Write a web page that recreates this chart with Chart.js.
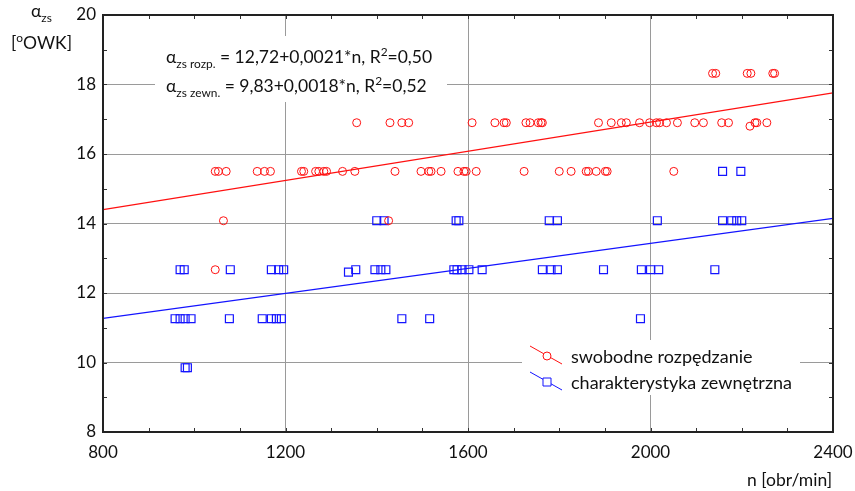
<!DOCTYPE html>
<html>
<head>
<meta charset="utf-8">
<script src="https://cdn.jsdelivr.net/npm/chart.js@4"></script>
<style>
  html, body { margin: 0; padding: 0; background: #fff; }
  #wrap { width: 855px; height: 491px; }
</style>
</head>
<body>
<div id="wrap"><canvas id="myChart" width="855" height="491"></canvas></div>
<script>
// swobodne rozpędzanie (red circles)
const freeN = [2136, 2143, 2212, 2220, 2268, 2272,
  1356, 1429, 1455, 1470, 1609, 1659, 1679, 1684, 1727, 1736, 1754, 1760, 1763,
  1886, 1914, 1936, 1947, 1976, 1998, 2013, 2020, 2035, 2059, 2097, 2116, 2156, 2171, 2218, 2229, 2233, 2255,
  1046, 1053, 1070, 1138, 1154, 1167, 1235, 1240, 1266, 1273, 1284, 1290, 1325, 1352, 1440,
  1497, 1514, 1519, 1541, 1578, 1591, 1596, 1618, 1723, 1800, 1826, 1859, 1864, 1881, 1901, 1905, 2051,
  1064, 1426, 1046];
const freeA = [18.32, 18.32, 18.32, 18.32, 18.32, 18.32,
  16.9, 16.9, 16.9, 16.9, 16.9, 16.9, 16.9, 16.9, 16.9, 16.9, 16.9, 16.9, 16.9,
  16.9, 16.9, 16.9, 16.9, 16.9, 16.9, 16.9, 16.9, 16.9, 16.9, 16.9, 16.9, 16.9, 16.9, 16.8, 16.9, 16.9, 16.9,
  15.5, 15.5, 15.5, 15.5, 15.5, 15.5, 15.5, 15.5, 15.5, 15.5, 15.5, 15.5, 15.5, 15.5, 15.5,
  15.5, 15.5, 15.5, 15.5, 15.5, 15.5, 15.5, 15.5, 15.5, 15.5, 15.5, 15.5, 15.5, 15.5, 15.5, 15.5, 15.5,
  14.08, 14.08, 12.67];

// charakterystyka zewnętrzna (blue squares)
const extN = [2158, 2198,
  1400, 1416, 1574, 1580, 1778, 1796, 2015, 2158, 2178, 2189, 2200,
  969, 978, 1079, 1169, 1185, 1196, 1338, 1354, 1396, 1409, 1420, 1569, 1576, 1587, 1602, 1631,
  1763, 1782, 1796, 1897, 1980, 2000, 2018, 2141,
  958, 969, 980, 993, 1077, 1149, 1169, 1180, 1191, 1455, 1516, 1978,
  980, 985];
const extA = [15.5, 15.5,
  14.08, 14.08, 14.08, 14.08, 14.08, 14.08, 14.08, 14.08, 14.08, 14.08, 14.08,
  12.67, 12.67, 12.67, 12.67, 12.67, 12.67, 12.6, 12.67, 12.67, 12.67, 12.67, 12.67, 12.67, 12.67, 12.67, 12.67,
  12.67, 12.67, 12.67, 12.67, 12.67, 12.67, 12.67, 12.67,
  11.26, 11.26, 11.26, 11.26, 11.26, 11.26, 11.26, 11.26, 11.26, 11.26, 11.26, 11.26,
  9.85, 9.85];

// fitted lines printed on the chart: a = b0 + b1*n
const fitFree = [12.72, 0.0021];
const fitExt = [9.83, 0.0018];
const xRange = [800, 2400];

const seriesNames = ['swobodne rozpędzanie', 'charakterystyka zewnętrzna'];
const RED = '#ff1010';
const BLUE = '#1414ff';
const FONT = 'Lato, "Liberation Sans", sans-serif';
const TXT = 17.5;

function toPoints(xs, ys) {
  return xs.map((x, i) => ({ x: x, y: ys[i] }));
}
function fitPoints(fit) {
  return xRange.map(n => ({ x: n, y: fit[0] + fit[1] * n }));
}

// draw a run of text pieces: ['text', 'n' | 'sub' | 'sup']
function richText(ctx, parts, x, y, size) {
  ctx.textBaseline = 'alphabetic';
  ctx.textAlign = 'left';
  parts.forEach(p => {
    let fs = size, dy = 0;
    if (p[1] === 'sub') { fs = size * 0.68; dy = size * 0.28; }
    if (p[1] === 'sup') { fs = size * 0.68; dy = -size * 0.42; }
    ctx.font = fs + 'px ' + FONT;
    ctx.fillText(p[0], x, y + dy);
    x += ctx.measureText(p[0]).width;
  });
  return x;
}

const decorPlugin = {
  id: 'decor',
  afterDatasetsDraw(chart) {
    const ctx = chart.ctx;
    const a = chart.chartArea;
    const xs = chart.scales.x, ys = chart.scales.y;
    ctx.save();

    // minor ticks inside the frame
    ctx.strokeStyle = '#333';
    ctx.lineWidth = 1;
    for (let v = 800; v <= 2400; v += 100) {
      const px = Math.round(xs.getPixelForValue(v)) + 0.5;
      ctx.beginPath();
      ctx.moveTo(px, a.bottom); ctx.lineTo(px, a.bottom - 4);
      ctx.moveTo(px, a.top); ctx.lineTo(px, a.top + 4);
      ctx.stroke();
    }
    for (let v = 8; v <= 20; v += 1) {
      const py = Math.round(ys.getPixelForValue(v)) + 0.5;
      ctx.beginPath();
      ctx.moveTo(a.left, py); ctx.lineTo(a.left + 4, py);
      ctx.moveTo(a.right, py); ctx.lineTo(a.right - 4, py);
      ctx.stroke();
    }
    // frame
    ctx.strokeStyle = '#222';
    ctx.lineWidth = 2;
    ctx.strokeRect(a.left, a.top, a.right - a.left, a.bottom - a.top);

    // equations box
    ctx.fillStyle = '#fff';
    ctx.fillRect(155, 36, 292, 66);
    ctx.fillStyle = '#111';
    const fmt = v => String(v).replace('.', ',');
    richText(ctx, [['α', 'n'], ['zs rozp.', 'sub'],
      [' = ' + fmt(fitFree[0]) + '+' + fmt(fitFree[1]) + '*n, R', 'n'], ['2', 'sup'], ['=0,50', 'n']], 166, 63, TXT);
    richText(ctx, [['α', 'n'], ['zs zewn.', 'sub'],
      [' = ' + fmt(fitExt[0]) + '+' + fmt(fitExt[1]) + '*n, R', 'n'], ['2', 'sup'], ['=0,52', 'n']], 166, 92, TXT);

    // legend box
    ctx.fillStyle = '#fff';
    ctx.fillRect(522, 340, 278, 55);
    const rows = [[RED, 'circle', 356], [BLUE, 'rect', 382]];
    rows.forEach((r, i) => {
      ctx.strokeStyle = r[0];
      ctx.lineWidth = 1;
      ctx.beginPath();
      ctx.moveTo(530, r[2] - 10); ctx.lineTo(562, r[2] + 8);
      ctx.stroke();
      ctx.fillStyle = '#fff';
      ctx.beginPath();
      if (r[1] === 'circle') ctx.arc(547, r[2], 4, 0, Math.PI * 2);
      else ctx.rect(543, r[2] - 4, 8, 8);
      ctx.fill();
      ctx.stroke();
      ctx.fillStyle = '#111';
      ctx.font = '18px ' + FONT;
      ctx.textBaseline = 'middle';
      ctx.fillText(seriesNames[i], 571, r[2] + 1);
    });

    // axis titles
    ctx.fillStyle = '#111';
    ctx.font = TXT + 'px ' + FONT;
    ctx.textAlign = 'right';
    ctx.textBaseline = 'middle';
    ctx.fillText('n [obr/min]', 832, 480);
    richText(ctx, [['α', 'n'], ['zs', 'sub']], 31, 17, TXT);
    richText(ctx, [['[', 'n'], ['o', 'sup'], ['OWK]', 'n']], 11, 49, TXT);
    ctx.restore();
  }
};

const ctx = document.getElementById('myChart');
new Chart(ctx, {
  type: 'scatter',
  data: {
    datasets: [
      {
        label: seriesNames[0],
        data: toPoints(freeN, freeA),
        pointStyle: 'circle',
        pointRadius: 4,
        borderColor: RED,
        backgroundColor: 'rgba(255,255,255,0)',
        borderWidth: 1
      },
      {
        label: seriesNames[1],
        data: toPoints(extN, extA),
        pointStyle: 'rect',
        pointRadius: 5.6,
        borderColor: BLUE,
        backgroundColor: 'rgba(255,255,255,0)',
        borderWidth: 1.2
      },
      {
        label: 'fit1',
        data: fitPoints(fitFree),
        showLine: true,
        pointRadius: 0,
        borderColor: RED,
        borderWidth: 1.2
      },
      {
        label: 'fit2',
        data: fitPoints(fitExt),
        showLine: true,
        pointRadius: 0,
        borderColor: BLUE,
        borderWidth: 1.2
      }
    ]
  },
  options: {
    responsive: false,
    animation: false,
    layout: { padding: { left: 0, top: 15, right: 22, bottom: 0 } },
    scales: {
      x: {
        min: 800, max: 2400,
        afterFit: s => { s.height = 59; s.paddingLeft = 0; s.paddingRight = 0; },
        grid: { color: '#9a9a9a', lineWidth: 1, drawTicks: false },
        border: { display: false },
        ticks: { stepSize: 400, padding: 10, color: '#111', font: { family: FONT, size: 17 }, maxRotation: 0,
          callback: v => String(v) }
      },
      y: {
        min: 8, max: 20,
        afterFit: s => { s.width = 103; s.paddingTop = 0; s.paddingBottom = 0; },
        grid: { color: '#9a9a9a', lineWidth: 1, drawTicks: false },
        border: { display: false },
        ticks: { stepSize: 2, padding: 7, color: '#111', font: { family: FONT, size: 17 },
          callback: v => String(v) }
      }
    },
    plugins: {
      legend: { display: false },
      tooltip: { enabled: false }
    }
  },
  plugins: [decorPlugin]
});
</script>
</body>
</html>
